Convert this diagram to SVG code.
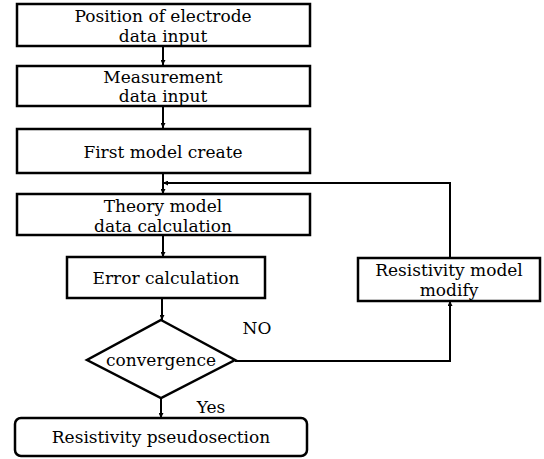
<svg xmlns="http://www.w3.org/2000/svg" width="544" height="459" viewBox="0 0 544 459">
<defs>
<style>
.box{fill:#fff;stroke:#000;stroke-width:2.5}
.t{font-family:"DejaVu Serif","Liberation Serif","Times New Roman",serif;font-size:17px;fill:#000;text-anchor:middle}
.c{fill:none;stroke:#000;stroke-width:2}
</style>
<marker id="ah" viewBox="0 0 10 10" refX="10" refY="5" markerWidth="5" markerHeight="5" orient="auto" markerUnits="userSpaceOnUse">
<path d="M0,0 L10,5 L0,10 z" fill="#000"/>
</marker>
</defs>
<rect width="544" height="459" fill="#fff"/>
<g id="connectors">
<line class="c" x1="163" y1="46" x2="163" y2="65" marker-end="url(#ah)"/>
<line class="c" x1="163" y1="106" x2="163" y2="128" marker-end="url(#ah)"/>
<line class="c" x1="163" y1="173" x2="163" y2="194" marker-end="url(#ah)"/>
<line class="c" x1="163" y1="235" x2="163" y2="257" marker-end="url(#ah)"/>
<line class="c" x1="162" y1="298" x2="162" y2="320" marker-end="url(#ah)"/>
<line class="c" x1="161" y1="398" x2="161" y2="418" marker-end="url(#ah)"/>
<polyline class="c" points="235,361 450,361 450,301" marker-end="url(#ah)"/>
<polyline class="c" points="450,258 450,183 163,183" marker-end="url(#ah)"/>
</g>
<g id="n1"><rect class="box" x="17" y="4" width="293" height="42"/>
<text class="t" x="163" y="22">Position of electrode</text><text class="t" x="163" y="42">data input</text></g>
<g id="n2"><rect class="box" x="17" y="66" width="293" height="40"/>
<text class="t" x="163" y="83">Measurement</text><text class="t" x="163" y="102">data input</text></g>
<g id="n3"><rect class="box" x="17" y="129" width="293" height="44"/>
<text class="t" x="163" y="158">First model create</text></g>
<g id="n4"><rect class="box" x="17" y="194" width="293" height="41"/>
<text class="t" x="163" y="212">Theory model</text><text class="t" x="163" y="232">data calculation</text></g>
<g id="n5"><rect class="box" x="67" y="257" width="198" height="41"/>
<text class="t" x="166" y="284">Error calculation</text></g>
<g id="n6"><polygon class="box" points="161,320 235,360 161,398 87,360"/>
<text class="t" x="161" y="366">convergence</text></g>
<g id="n7"><rect class="box" x="358" y="258" width="182" height="43"/>
<text class="t" x="449" y="276">Resistivity model</text><text class="t" x="449" y="296">modify</text></g>
<g id="n8"><rect class="box" x="15" y="418" width="292" height="38" rx="6"/>
<text class="t" x="161" y="443">Resistivity pseudosection</text></g>
<text class="t" x="257" y="334">NO</text>
<text class="t" x="211" y="413">Yes</text>
</svg>
